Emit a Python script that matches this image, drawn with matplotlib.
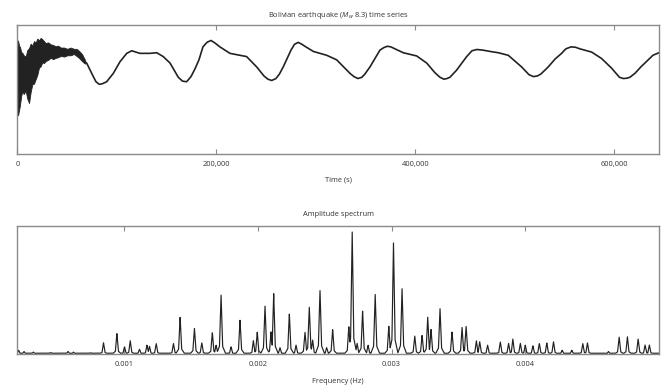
"""Bolivian earthquake (Mw 8.3) long-period record and its amplitude spectrum."""

import matplotlib

matplotlib.use("Agg")
import matplotlib.pyplot as plt  # noqa: E402
import numpy as np  # noqa: E402
from matplotlib.ticker import FuncFormatter  # noqa: E402

# --- Data ------------------------------------------------------------

# Smooth part of the trace (arbitrary displacement units), knots along the curve.
TRACE_T = [
    68000, 69700, 76400, 79100, 82400, 85600, 89800, 96500, 103200, 110000,
    115000, 123300, 133400, 140100, 146700, 153500, 161800, 166000, 170200, 174600,
    178600, 182600, 186600, 190600, 194700, 198700, 203700, 213800, 223800, 230500,
    240600, 247900, 251900, 255700, 260000, 263500, 267300, 275100, 278600, 282400,
    286100, 290100, 297500, 311000, 321000, 329300, 334400, 338400, 342400, 346400,
    349400, 354500, 364500, 368500, 372000, 375600, 379600, 387900, 401400, 411500,
    419800, 424800, 428800, 431900, 434900, 441600, 451700, 457000, 462000, 468000,
    475100, 483400, 493500, 506900, 514300, 518800, 522800, 526300, 533700, 540400,
    547100, 551400, 556500, 561000, 565500, 577300, 587300, 597400, 605200, 609200,
    612700, 615800, 620800, 626800, 634200, 638900, 645000,
]
TRACE_V = [
    0.43, 0.41, 0.20, 0.12, 0.08, 0.09, 0.12, 0.25, 0.43, 0.56,
    0.60, 0.56, 0.56, 0.57, 0.51, 0.41, 0.19, 0.13, 0.12, 0.20,
    0.32, 0.46, 0.66, 0.73, 0.76, 0.72, 0.66, 0.56, 0.53, 0.51,
    0.35, 0.21, 0.16, 0.14, 0.17, 0.24, 0.35, 0.61, 0.70, 0.73,
    0.70, 0.66, 0.59, 0.53, 0.46, 0.33, 0.25, 0.20, 0.17, 0.19,
    0.24, 0.35, 0.61, 0.65, 0.67, 0.66, 0.63, 0.57, 0.52, 0.41,
    0.26, 0.19, 0.16, 0.17, 0.19, 0.30, 0.51, 0.60, 0.62, 0.61,
    0.59, 0.57, 0.53, 0.35, 0.23, 0.20, 0.21, 0.24, 0.35, 0.47,
    0.56, 0.63, 0.66, 0.655, 0.63, 0.58, 0.48, 0.33, 0.19, 0.17,
    0.175, 0.19, 0.25, 0.35, 0.46, 0.53, 0.57,
]

# Early high-frequency arrivals: upper / lower envelope of the dense trace.
NOISE_T = [
    0, 700, 1800, 2700, 3900, 5000, 6500, 8400, 10000, 11800,
    13400, 15100, 16800, 18500, 20200, 21800, 23500, 25100, 26800, 28500,
    31000, 33600, 36000, 38600, 41000, 43600, 47000, 50300, 53500, 57000,
    59500, 62000, 65000, 68000,
]
NOISE_UP = [
    0.74, 0.76, 0.68, 0.66, 0.58, 0.57, 0.53, 0.51, 0.61, 0.64,
    0.71, 0.68, 0.75, 0.73, 0.79, 0.76, 0.80, 0.78, 0.75, 0.72,
    0.73, 0.70, 0.69, 0.67, 0.68, 0.65, 0.65, 0.63, 0.65, 0.63,
    0.63, 0.60, 0.55, 0.46,
]
NOISE_LO = [
    -0.30, -0.40, -0.32, -0.24, -0.10, -0.03, -0.07, -0.02, -0.14, -0.21,
    -0.04, 0.08, 0.09, 0.16, 0.23, 0.34, 0.36, 0.42, 0.41, 0.44,
    0.46, 0.49, 0.47, 0.49, 0.50, 0.52, 0.51, 0.53, 0.53, 0.55,
    0.52, 0.49, 0.44, 0.40,
]

# Spectral peaks: frequency (Hz) and relative amplitude.
PEAK_F = [
    0.00021, 0.00025, 0.00032, 0.00045, 0.00058, 0.00062, 0.00075,
    0.000845, 0.000945, 0.001002, 0.001045, 0.001114, 0.001170, 0.001189,
    0.001239, 0.001368, 0.001418, 0.001525, 0.001580, 0.001659, 0.001687,
    0.001724, 0.001799, 0.001866, 0.001966, 0.001995, 0.002053, 0.002098,
    0.002118, 0.002165, 0.002235, 0.002285, 0.002352, 0.002384, 0.002409,
    0.002464, 0.002514, 0.002559, 0.002680, 0.002705, 0.002742, 0.002783,
    0.002824, 0.002877, 0.002979, 0.003014, 0.003078, 0.003173, 0.003228,
    0.003270, 0.003295, 0.003362, 0.003452, 0.003527, 0.003557, 0.003634,
    0.003659, 0.003718, 0.003813, 0.003875, 0.003907, 0.003963, 0.004000,
    0.004057, 0.004105, 0.004161, 0.004211, 0.004276, 0.004348, 0.004430,
    0.004465, 0.004622, 0.004702, 0.004764, 0.004844, 0.004896, 0.004928,
]
PEAK_A = [
    0.03, 0.02, 0.015, 0.012, 0.02, 0.015, 0.01,
    0.088, 0.16, 0.057, 0.104, 0.037, 0.07, 0.06,
    0.083, 0.083, 0.29, 0.20, 0.088, 0.17, 0.07,
    0.469, 0.057, 0.266, 0.104, 0.174, 0.377, 0.174,
    0.474, 0.05, 0.318, 0.07, 0.174, 0.375, 0.11,
    0.51, 0.05, 0.193, 0.219, 0.969, 0.083, 0.339,
    0.07, 0.474, 0.219, 0.872, 0.513, 0.143, 0.148,
    0.29, 0.193, 0.357, 0.174, 0.208, 0.221, 0.104,
    0.096, 0.07, 0.096, 0.083, 0.117, 0.083, 0.07,
    0.065, 0.083, 0.088, 0.096, 0.03, 0.03, 0.083,
    0.088, 0.02, 0.135, 0.135, 0.117, 0.07, 0.07,
]

# --- Style -------------------------------------------------------------

FONT = "Open Sans"
TEXT_COLOR = "#333333"
SPINE_COLOR = "#8a8a8a"
LINE_COLOR = "#222222"
FS = 5.4

plt.rcParams["font.family"] = FONT
plt.rcParams["mathtext.fontset"] = "custom"
plt.rcParams["mathtext.rm"] = FONT
plt.rcParams["mathtext.it"] = f"{FONT}:italic"


def style_axes(ax):
    for sp in ax.spines.values():
        sp.set_color(SPINE_COLOR)
        sp.set_linewidth(1.0)
    ax.tick_params(axis="x", direction="in", top=True, bottom=True, length=3.5,
                   width=0.8, color=SPINE_COLOR, labelsize=FS, labelcolor=TEXT_COLOR, pad=5)
    ax.set_yticks([])


def spectrum_line(freqs, amps, fmin, fmax):
    """Polyline made of narrow spikes, one per read-off peak."""
    grid = np.linspace(fmin, fmax, 6000)
    y = np.full_like(grid, 0.006)
    w = 0.0000115
    for f, a in zip(freqs, amps):
        px = [f - 3 * w, f - w, f, f + w, f + 3 * w]
        py = [0, 0.13 * a, a, 0.13 * a, 0]
        y = np.maximum(y, np.interp(grid, px, py, left=0, right=0))
    return grid, y


fig = plt.figure(figsize=(6.68, 3.90), dpi=100)
ax_top = fig.add_axes([0.0259, 0.605, 0.9606, 0.331])
ax_bot = fig.add_axes([0.0259, 0.0923, 0.9606, 0.3282])

# Top: time series
ax_top.fill_between(NOISE_T, NOISE_LO, NOISE_UP, color=LINE_COLOR, lw=0.6, edgecolor=LINE_COLOR)
ax_top.plot(TRACE_T, TRACE_V, color=LINE_COLOR, lw=1.2, solid_joinstyle="round")
ax_top.set_xlim(0, 645000)
ax_top.set_ylim(-1, 1)
ax_top.set_xticks([0, 200000, 400000, 600000])
ax_top.xaxis.set_major_formatter(FuncFormatter(lambda v, _: f"{int(v):,}"))
style_axes(ax_top)
ax_top.set_title(r"Bolivian earthquake ($M_w$ 8.3) time series", fontsize=FS,
                 color=TEXT_COLOR, pad=6)
ax_top.set_xlabel("Time (s)", fontsize=FS, color=TEXT_COLOR, labelpad=6)

# Bottom: amplitude spectrum
fx, fy = spectrum_line(PEAK_F, PEAK_A, 0.0002, 0.005)
ax_bot.plot(fx, fy, color=LINE_COLOR, lw=0.85)
ax_bot.set_xlim(0.0002, 0.005)
ax_bot.set_ylim(0, 1)
ax_bot.set_xticks([0.001, 0.002, 0.003, 0.004])
ax_bot.set_xticklabels(["0.001", "0.002", "0.003", "0.004"])
style_axes(ax_bot)
ax_bot.set_title("Amplitude spectrum", fontsize=FS, color=TEXT_COLOR, pad=7)
ax_bot.set_xlabel("Frequency (Hz)", fontsize=FS, color=TEXT_COLOR, labelpad=7)

fig.savefig("out.png", dpi=100)
